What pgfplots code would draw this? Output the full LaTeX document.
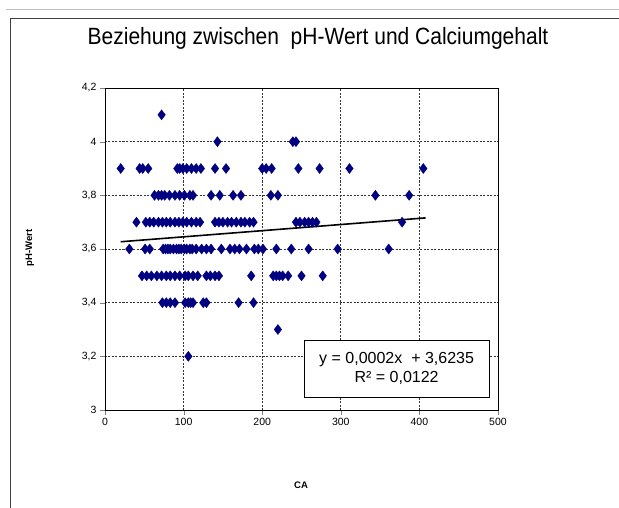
\documentclass[border=0pt]{standalone}
\usepackage{pgfplots}
\pgfplotsset{compat=1.18}
\usepackage{fontspec}
\setmainfont{Liberation Sans}
\definecolor{navy}{RGB}{0,0,128}
\begin{document}
\begin{tikzpicture}[x=1pt,y=1pt]
\useasboundingbox (0,0) rectangle (619,507);
\fill[white] (0,0) rectangle (619,507);
\draw[gray!50, line width=1pt] (6,497) -- (640,497);
\draw[black!75, line width=0.8pt] (10,-20) -- (10,489) -- (640,489);
\begin{axis}[
  at={(105pt,97pt)}, anchor=south west,
  scale only axis, width=393pt, height=322pt,
  xmin=0, xmax=500, ymin=3, ymax=4.2,
  xtick={0,100,...,500},
  ytick={3,3.2,3.4,3.6,3.8,4,4.2},
  yticklabels={3,{3,2},{3,4},{3,6},{3,8},4,{4,2}},
  /pgf/number format/assume math mode=true,
  tick label style={font=\fontsize{10.5}{12}\selectfont},
  tick align=outside, tick pos=left,
  major tick length=5pt,
  grid=major,
  major grid style={black!80, dash pattern=on 2pt off 1.5pt, line width=0.7pt},
  axis line style={black, line width=0.8pt},
  title={\scalebox{1}[1.12]{Beziehung zwischen\ \ pH-Wert und Calciumgehalt}},
  title style={at={(rel axis cs:0.542,1.134)}, anchor=center, font=\fontsize{21}{25}\selectfont},
  xlabel={CA},
  xlabel style={at={(rel axis cs:0.499,-0.233)}, anchor=center, font=\bfseries\fontsize{9.5}{11}\selectfont},
  ylabel={pH-Wert},
  ylabel style={at={(rel axis cs:-0.191,0.503)}, anchor=center, rotate=0, font=\bfseries\fontsize{9.5}{11}\selectfont},
  clip=false,
]
\addplot[only marks, mark=diamond*, mark size=5pt, color=navy, mark options={fill=navy, draw=navy}] coordinates {
(72,4.1)
(143,4.0) (239,4.0) (243,4.0)
(20,3.9) (44,3.9) (48,3.9) (55,3.9) (92,3.9) (95,3.9) (99,3.9) (104,3.9) (110,3.9) (116,3.9) (122,3.9) (140,3.9) (154,3.9) (200,3.9) (205,3.9) (212,3.9) (246,3.9) (273,3.9) (311,3.9) (405,3.9)
(63,3.8) (68,3.8) (72,3.8) (76,3.8) (82,3.8) (89,3.8) (95,3.8) (101,3.8) (108,3.8) (112,3.8) (135,3.8) (146,3.8) (163,3.8) (173,3.8) (211,3.8) (220,3.8) (344,3.8) (387,3.8)
(40,3.7) (52,3.7) (57,3.7) (62,3.7) (68,3.7) (73,3.7) (78,3.7) (83,3.7) (89,3.7) (94,3.7) (99,3.7) (104,3.7) (110,3.7) (116,3.7) (121,3.7) (140,3.7) (145,3.7) (150,3.7) (156,3.7) (161,3.7) (167,3.7) (173,3.7) (178,3.7) (184,3.7) (189,3.7) (243,3.7) (248,3.7) (254,3.7) (259,3.7) (264,3.7) (269,3.7) (378,3.7)
(31,3.6) (51,3.6) (57,3.6) (74,3.6) (77,3.6) (80,3.6) (83,3.6) (87,3.6) (91,3.6) (94,3.6) (97,3.6) (101,3.6) (104,3.6) (108,3.6) (111,3.6) (116,3.6) (123,3.6) (129,3.6) (135,3.6) (148,3.6) (159,3.6) (165,3.6) (171,3.6) (180,3.6) (190,3.6) (195,3.6) (201,3.6) (218,3.6) (237,3.6) (259,3.6) (296,3.6) (361,3.6)
(47,3.5) (53,3.5) (59,3.5) (66,3.5) (72,3.5) (78,3.5) (83,3.5) (89,3.5) (95,3.5) (102,3.5) (106,3.5) (112,3.5) (118,3.5) (129,3.5) (134,3.5) (140,3.5) (145,3.5) (186,3.5) (214,3.5) (218,3.5) (222,3.5) (226,3.5) (233,3.5) (250,3.5) (277,3.5)
(73,3.4) (78,3.4) (83,3.4) (89,3.4) (102,3.4) (106,3.4) (109,3.4) (112,3.4) (125,3.4) (129,3.4) (170,3.4) (189,3.4)
(220,3.3)
(106,3.2)
};
\addplot[black, line width=1.6pt, no marks] coordinates {(20,3.627) (408,3.716)};
\node[draw=black, line width=0.8pt, fill=white, align=center, minimum width=185pt, minimum height=57pt, inner sep=2pt, font=\fontsize{16}{19}\selectfont] at (axis cs:371,3.155) {y = 0,0002x\ \ + 3,6235\\R² = 0,0122};
\end{axis}
\end{tikzpicture}
\end{document}
